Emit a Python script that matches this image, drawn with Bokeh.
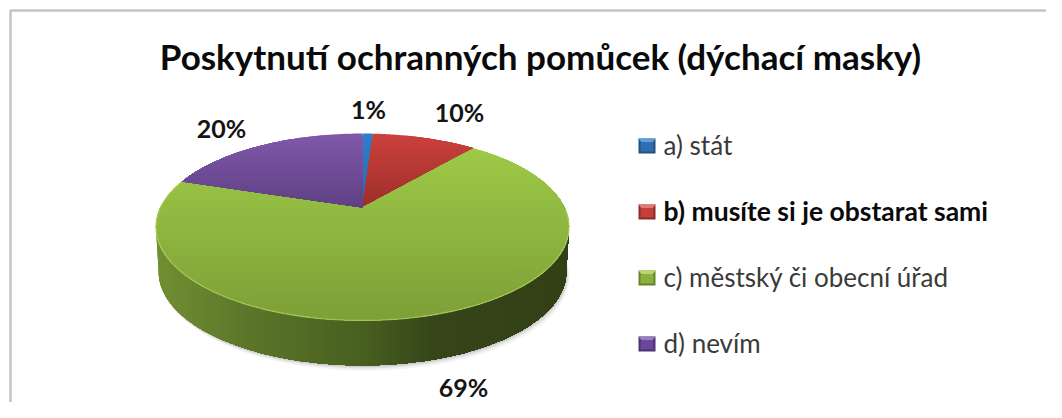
import math
from bokeh.plotting import figure
from bokeh.models import Range1d
from bokeh.core.properties import value
from bokeh.embed import file_html
from bokeh.resources import INLINE

TITLE = "Poskytnutí ochranných pomůcek (dýchací masky)"
categories = ["a) stát", "b) musíte si je obstarat sami", "c)  městský či obecní úřad", "d) nevím"]
shares = [1, 10, 69, 20]
labels = ["1%", "10%", "69%", "20%"]
bold_row = [False, True, False, False]

top_colors = ["#2f7dcb", "#cb413c", "#9dc947", "#8058aa"]
bottom_colors = ["#2b6aad", "#9c2e2b", "#7d9f38", "#5f4083"]
legend_colors = ["#2f6ead", "#c43e3a", "#8caf3f", "#6b469a"]
legend_lights = ["#5aa0dc", "#e07a74", "#b7d96b", "#9a7cc4"]
legend_darks = ["#23527f", "#8f2c29", "#66822c", "#4d3172"]

# layout: the figure fits the window inside the 8px page margin
W, H = 1046, 402
CX, CY = 362.0, 207.0
B, A, K = 202.0, 89.4, 0.2086
DEPTH, LOWER_SCALE = 45.0, 0.987
label_x = [368, 459, 463, 221]
label_y = [108, 111, 386, 127]
legend_y = [146, 212, 278, 344]

p = figure(width=W, height=H, output_backend="svg", toolbar_location=None,
           x_range=Range1d(0, W), y_range=Range1d(H, 0),
           min_border=0, outline_line_color=None, background_fill_color="white",
           border_fill_color="white")
p.axis.visible = False
p.grid.visible = False


def project(angle_deg, r=1.0):
    t = math.radians(angle_deg)
    u, v = r * math.sin(t), r * math.cos(t)
    d = 1 + K * v
    return CX + B * u / d, CY - A * v / d


def clip(poly, axis, limit):
    """Keep the part of the polygon with coordinate[axis] >= limit."""
    out = []
    for i, a in enumerate(poly):
        b = poly[(i + 1) % len(poly)]
        ina, inb = a[axis] >= limit, b[axis] >= limit
        if ina:
            out.append(a)
        if ina != inb:
            s = (limit - a[axis]) / (b[axis] - a[axis])
            out.append((a[0] + s * (b[0] - a[0]), a[1] + s * (b[1] - a[1])))
    return out


def hex2rgb(c):
    return tuple(int(c[i:i + 2], 16) for i in (1, 3, 5))


def mix(c1, c2, s):
    a, b = hex2rgb(c1), hex2rgb(c2)
    return "#%02x%02x%02x" % tuple(round(a[i] + (b[i] - a[i]) * s) for i in range(3))


def draw(poly, color, alpha=1.0):
    p.patch([q[0] for q in poly], [q[1] for q in poly], fill_color=color,
            fill_alpha=alpha, line_color=None)


angles = [i * 0.5 for i in range(720)]
upper = [project(a) for a in angles]
lower = [(CX + (x - CX) * LOWER_SCALE, y + DEPTH) for x, y in upper]

for off, al in ((5, 0.05), (3, 0.07), (1.5, 0.09)):
    draw([(x + off * 0.6, y + off) for x, y in lower], "#000000", al)

stops = [(156, "#718e32"), (250, "#5b7529"), (362, "#485f20"), (430, "#364619"), (569, "#333f16")]
iL = min(range(720), key=lambda i: upper[i][0])
iR = max(range(720), key=lambda i: upper[i][0])
front = [lower[i % 720] for i in range(iL, iR - 1, -1)]
side = [upper[iL]] + front + [upper[iR]] + list(reversed([upper[i] for i in range(iR, iL + 1)]))


def side_color(x):
    for (x0, c0), (x1, c1) in zip(stops, stops[1:]):
        if x <= x1:
            return mix(c0, c1, max(0, (x - x0) / (x1 - x0)))
    return stops[-1][1]


x = 150
while x < 575:
    poly = clip(side, 0, x)
    if poly:
        draw(poly, side_color(x))
    x += 3

start = 0.0
total = sum(shares)
for share, c_top, c_bot in zip(shares, top_colors, bottom_colors):
    end = start + 360.0 * share / total
    n = max(3, int(end - start) * 2)
    poly = [(CX, CY)] + [project(start + (end - start) * i / n) for i in range(n + 1)]
    ys = [q[1] for q in poly]
    y0, y1 = min(ys), max(ys)
    y = y0
    while y < y1:
        part = clip(poly, 1, y)
        if part:
            draw(part, mix(c_top, c_bot, (y - y0) / (y1 - y0)))
        y += 2
    start = end

rim = [project(a) for a in range(92, 290, 2)]
p.line([q[0] for q in rim], [q[1] for q in rim], line_color="#b3d263", line_width=1.3, line_alpha=0.7)

p.text(x=label_x, y=label_y, text=labels, text_font=value("Lato"), text_font_style="bold",
       text_font_size="25px", text_align="center", text_baseline="middle", text_color="#141414")

p.text(x=[540], y=[55], text=[TITLE], text_font=value("Lato"), text_font_style="bold",
       text_font_size="35px", text_align="center", text_baseline="middle", text_color="#0a0a0a")

for ly, name, bold, c, cl, cd in zip(legend_y, categories, bold_row, legend_colors, legend_lights, legend_darks):
    x0, x1, y0, y1 = 638, 655, ly - 8, ly + 7
    draw([(x0, y0), (x1, y0), (x1, y1), (x0, y1)], cd)
    draw([(x0, y0), (x1, y0), (x1 - 3, y0 + 4), (x0 + 3, y0 + 4)], cl)
    draw([(x0 + 2, y0 + 4), (x1 - 2, y0 + 4), (x1 - 2, y1 - 2), (x0 + 2, y1 - 2)], c)
    p.text(x=[663], y=[ly - 2], text=[name], text_font=value("Lato"),
           text_font_style="bold" if bold else "normal", text_font_size="26.5px" if bold else "26px",
           text_align="left", text_baseline="middle", text_color="#0a0a0a" if bold else "#3a3a3a")

p.line([10, 10, W], [H, 10, 10], line_color="#c4c4c4", line_width=2.5)

open("out.html", "w").write(file_html(p, INLINE))
